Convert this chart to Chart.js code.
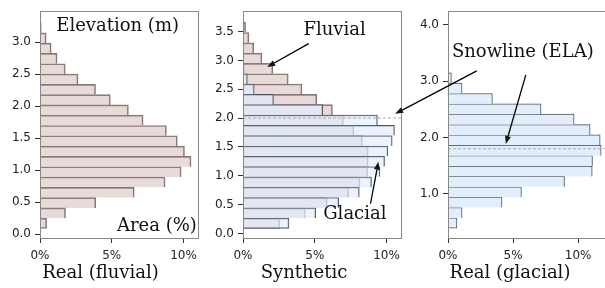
<!DOCTYPE html>
<html>
<head>
<meta charset="utf-8">
<script src="https://cdn.jsdelivr.net/npm/chart.js@4.4.1/dist/chart.umd.min.js"></script>
<style>
  body { margin: 0; background: #fff; overflow: hidden; }
  #wrap { position: relative; width: 605px; height: 288px; overflow: hidden; }
  canvas { position: absolute; top: 0; }
</style>
</head>
<body>
<div id="wrap">
  <canvas id="c1" width="203" height="288" style="left:0px"></canvas>
  <canvas id="c2" width="203" height="288" style="left:203px"></canvas>
  <canvas id="c3" width="204" height="288" style="left:408px"></canvas>
  <canvas id="ov" width="605" height="288" style="left:0px"></canvas>
</div>
<script>
// Real (fluvial): bin centres (m) and area (%)
const fluvialElev = [0.168, 0.329, 0.490, 0.651, 0.812, 0.973, 1.134, 1.296, 1.457, 1.618,
                     1.779, 1.940, 2.101, 2.262, 2.423, 2.584, 2.745, 2.906, 3.067, 3.228];
const fluvialArea = [0.46, 1.78, 3.89, 6.57, 8.72, 9.84, 10.53, 10.07, 9.57, 8.81,
                     7.19, 6.16, 4.90, 3.87, 2.65, 1.76, 1.19, 0.78, 0.43, 0.09];

// Synthetic: same bins, fluvial and glacial parts
const synElev = [0.175, 0.354, 0.533, 0.712, 0.890, 1.069, 1.248, 1.427, 1.606, 1.785,
                 1.964, 2.143, 2.322, 2.501, 2.680, 2.859, 3.037, 3.216, 3.395, 3.574];
const synFluvial = [2.56, 4.34, 5.87, 7.35, 8.15, 8.68, 8.72, 8.72, 8.31, 7.72,
                    6.99, 6.23, 5.14, 4.11, 3.15, 2.08, 1.32, 0.75, 0.41, 0.18];
const synGlacial = [3.20, 5.07, 6.67, 8.10, 8.95, 9.54, 9.86, 10.09, 10.39, 10.55,
                    9.36, 5.55, 2.12, 0.78, 0.30, 0.07, 0, 0, 0, 0];

// Real (glacial)
const glacialElev = [0.480, 0.664, 0.848, 1.032, 1.216, 1.400, 1.584, 1.768, 1.952, 2.136,
                     2.320, 2.504, 2.688, 2.872, 3.056, 3.240];
const glacialArea = [0.69, 1.08, 4.15, 5.64, 8.95, 11.08, 11.10, 11.77, 11.69, 10.92,
                     9.69, 7.15, 3.41, 1.08, 0.26, 0.05];

const xTicks = [0, 5, 10];
const yTicks1 = [0, 0.5, 1.0, 1.5, 2.0, 2.5, 3.0];
const yTicks2 = [0, 0.5, 1.0, 1.5, 2.0, 2.5, 3.0, 3.5];
const yTicks3 = [1.0, 2.0, 3.0, 4.0];
const snowlineSyn = 2.0;
const snowlineGlacial = 1.8;

const tickFont = { family: 'DejaVu Sans', size: 12 };
const serif = 'DejaVu Serif';

function bars(elev, vals) {
  return elev.map((e, i) => ({ x: vals[i], y: e }));
}

// frame round the plot area + optional dashed snowline
const framePlugin = {
  id: 'frame',
  afterDatasetsDraw(chart, args, opts) {
    const a = chart.chartArea, ctx = chart.ctx;
    ctx.save();
    if (opts.snowline != null) {
      const y = chart.scales.y.getPixelForValue(opts.snowline);
      ctx.strokeStyle = '#9a9a9a';
      ctx.lineWidth = 0.8;
      ctx.setLineDash([3, 2]);
      ctx.beginPath();
      ctx.moveTo(a.left, y);
      ctx.lineTo(a.right, y);
      ctx.stroke();
      ctx.setLineDash([]);
    }
    ctx.strokeStyle = '#888';
    ctx.lineWidth = 1;
    ctx.strokeRect(Math.round(a.left) + 0.5, Math.round(a.top) + 0.5,
                   Math.round(a.right - a.left) - 1, Math.round(a.bottom - a.top));
    ctx.restore();
  }
};

function makePanel(id, datasets, yMin, yMax, yTicks, xMax, title, snowline, padRight) {
  return new Chart(document.getElementById(id), {
    type: 'bar',
    data: { datasets: datasets },
    options: {
      indexAxis: 'y',
      responsive: false,
      animation: false,
      devicePixelRatio: 1,
      layout: { padding: { top: 6, right: padRight, left: 0, bottom: 0 } },
      datasets: { bar: { grouped: false, barPercentage: 1, categoryPercentage: 1 } },
      scales: {
        x: {
          type: 'linear', min: 0, max: xMax,
          afterBuildTicks: s => { s.ticks = xTicks.map(v => ({ value: v })); },
          afterFit: s => { s.height = 22.4; },
          ticks: { callback: v => v + '%', font: tickFont, color: '#222', padding: 6, maxRotation: 0 },
          grid: { drawOnChartArea: false, drawTicks: true, tickLength: 5, tickColor: '#333' },
          border: { display: false }
        },
        y: {
          type: 'linear', min: yMin, max: yMax, offset: false,
          afterBuildTicks: s => { s.ticks = yTicks.map(v => ({ value: v })); },
          afterFit: s => { s.width = 40; },
          ticks: { callback: v => v.toFixed(1), font: tickFont, color: '#222', padding: 4 },
          grid: { offset: false, drawOnChartArea: false, drawTicks: true, tickLength: 5, tickColor: '#333' },
          border: { display: false }
        }
      },
      plugins: {
        legend: { display: false },
        tooltip: { enabled: false },
        title: {
          display: true, position: 'bottom', text: title, color: '#111',
          font: { family: serif, size: 18, weight: 'normal' },
          padding: { top: 2, bottom: 4 }
        },
        frame: { snowline: snowline }
      }
    },
    plugins: [framePlugin]
  });
}

// shared edges: each bar draws its top edge, the lowest bar also its bottom one
const edge = ctx => ({ top: 1, bottom: ctx.dataIndex === 0 ? 1 : 0, right: 1, left: 0 });

const charts = [
  makePanel('c1', [{
    data: bars(fluvialElev, fluvialArea),
    backgroundColor: 'rgba(188,143,143,0.33)', borderColor: '#857878', borderWidth: edge, borderSkipped: false
  }], -0.061, 3.486, yTicks1, 11.08, 'Real (fluvial)', null, 2),

  makePanel('c2', [{
    data: bars(synElev, synGlacial),
    backgroundColor: 'rgba(224,237,253,0.68)', borderColor: '#4f5760', borderWidth: edge, borderSkipped: false
  }, {
    data: bars(synElev, synFluvial),
    backgroundColor: 'rgba(188,143,143,0.33)', borderColor: '#857878', borderWidth: edge, borderSkipped: false
  }], -0.08, 3.853, yTicks2, 11.07, 'Synthetic', snowlineSyn, 1),

  makePanel('c3', [{
    data: bars(glacialElev, glacialArea),
    backgroundColor: '#e3eefc', borderColor: '#4a5058', borderWidth: edge, borderSkipped: false
  }], 0.215, 4.24, yTicks3, 12.6, 'Real (glacial)', snowlineGlacial, 0)
];

const offsets = [0, 203, 408];

function px(panel, x, y) {
  const c = charts[panel];
  return [offsets[panel] + c.scales.x.getPixelForValue(x), c.scales.y.getPixelForValue(y)];
}

// annotation texts (data coords of each panel)
const notes = [
  { panel: 0, x: 5.41, y: 3.17, text: 'Elevation (m)' },
  { panel: 0, x: 8.15, y: 0.05, text: 'Area (%)' },
  { panel: 1, x: 6.38, y: 3.446, text: 'Fluvial' },
  { panel: 1, x: 7.79, y: 0.254, text: 'Glacial' },
  { panel: 2, x: 5.75, y: 3.42, text: 'Snowline (ELA)' }
];
const arrows = [
  { from: [1, 4.57, 3.29], to: [1, 1.69, 2.886] },
  { from: [1, 8.88, 0.514], to: [1, 9.43, 1.242] },
  { from: [2, 2.21, 3.18], to: [1, 10.6, 2.073] },
  { from: [2, 5.98, 3.11], to: [2, 4.44, 1.884] }
];

const ov = document.getElementById('ov').getContext('2d');
ov.fillStyle = '#111';
ov.font = '18px "' + serif + '"';
ov.textAlign = 'center';
ov.textBaseline = 'alphabetic';
notes.forEach(n => {
  const p = px(n.panel, n.x, n.y);
  ov.fillText(n.text, p[0], p[1]);
});

ov.strokeStyle = '#000';
ov.lineWidth = 1.3;
arrows.forEach(a => {
  const p0 = px(a.from[0], a.from[1], a.from[2]);
  const p1 = px(a.to[0], a.to[1], a.to[2]);
  const ang = Math.atan2(p1[1] - p0[1], p1[0] - p0[0]);
  const hl = 8, hw = 3;
  const bx = p1[0] - hl * Math.cos(ang), by = p1[1] - hl * Math.sin(ang);
  ov.beginPath();
  ov.moveTo(p0[0], p0[1]);
  ov.lineTo(bx, by);
  ov.stroke();
  ov.beginPath();
  ov.moveTo(p1[0], p1[1]);
  ov.lineTo(bx + hw * Math.sin(ang), by - hw * Math.cos(ang));
  ov.lineTo(bx - hw * Math.sin(ang), by + hw * Math.cos(ang));
  ov.closePath();
  ov.fill();
});
</script>
</body>
</html>
